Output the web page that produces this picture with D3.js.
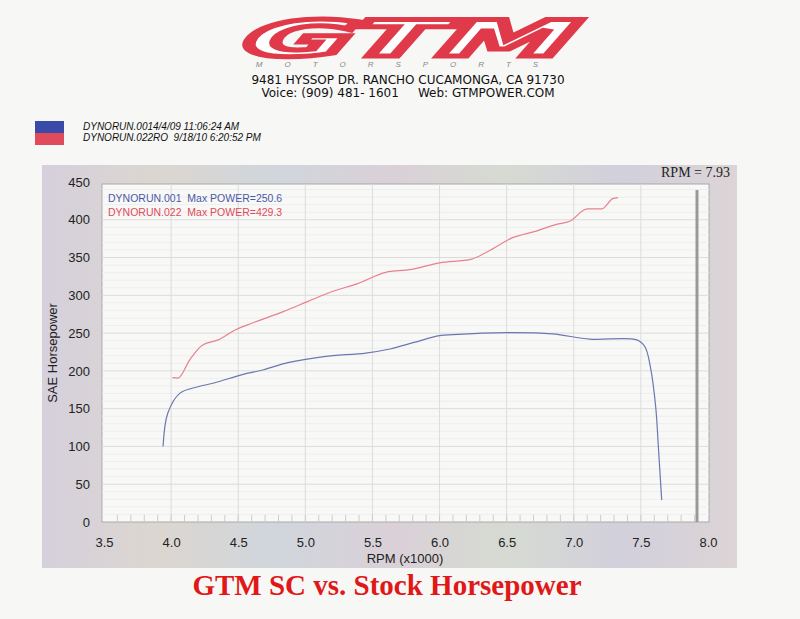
<!DOCTYPE html><html><head><meta charset="utf-8"><script src="https://cdn.jsdelivr.net/npm/d3@7"></script>
<style>body{margin:0;background:#f7f7f5}</style></head><body><svg id="c" width="800" height="619"></svg>
<script>
const blueRpm=[3.94,3.975,4.066,4.20,4.32,4.53,4.69,4.87,5.14,5.45,5.63,5.81,6.0,6.1,6.5,6.84,7.12,7.47,7.53,7.57,7.61,7.63,7.655];
const blueHp=[100,144,170.6,179,184,195,201.5,211,219,223.6,229,237.7,246.6,248,250.6,249,242,241,232,206,153,100,29];
const redRpm=[4.01,4.05,4.14,4.23,4.35,4.48,4.60,4.84,5.02,5.20,5.39,5.60,5.78,6.0,6.24,6.36,6.54,6.72,6.87,6.97,7.10,7.21,7.29,7.33];
const redHp=[191,190.4,215,233.7,241,254.5,263,278.8,292,305,315.5,330.5,334,343,348,358,376,385,394,398,414.5,414.5,428,429.3];
const xTicks=[3.5,4.0,4.5,5.0,5.5,6.0,6.5,7.0,7.5,8.0];
const yTicks=[0,50,100,150,200,250,300,350,400,450];
const svg=d3.select("#c");
// header
svg.append("text").attr("x",405).attr("y",56).attr("text-anchor","middle").attr("font-family","DejaVu Sans").attr("font-weight","bold").attr("font-style","italic").attr("font-size",50).attr("fill","#fff").attr("stroke","#e03a4a").attr("stroke-width",5).attr("transform","skewX(-20) translate(20,0)").attr("textLength",330).attr("lengthAdjust","spacingAndGlyphs").text("GTM");
svg.append("text").attr("x",408).attr("y",67).attr("text-anchor","middle").attr("font-family","Liberation Sans").attr("font-style","italic").attr("font-size",8).attr("fill","#888").attr("letter-spacing",22).text("MOTORSPORTS");
svg.append("text").attr("x",408).attr("y",84).attr("text-anchor","middle").attr("font-family","DejaVu Sans").attr("font-size",12).attr("fill","#111").text("9481 HYSSOP DR. RANCHO CUCAMONGA, CA 91730");
svg.append("text").attr("x",408).attr("y",97).attr("text-anchor","middle").attr("font-family","DejaVu Sans").attr("font-size",12).attr("fill","#111").attr("xml:space","preserve").text("Voice: (909) 481- 1601     Web: GTMPOWER.COM");
svg.append("rect").attr("x",35).attr("y",121).attr("width",29).attr("height",12).attr("fill","#3a4aa8");
svg.append("rect").attr("x",35).attr("y",133).attr("width",29).attr("height",12).attr("fill","#e04a5a");
svg.append("text").attr("x",83).attr("y",130).attr("font-family","Liberation Sans").attr("font-style","italic").attr("font-size",10).attr("fill","#111").text("DYNORUN.0014/4/09 11:06:24 AM");
svg.append("text").attr("x",83).attr("y",141).attr("font-family","Liberation Sans").attr("font-style","italic").attr("font-size",10).attr("fill","#111").attr("xml:space","preserve").text("DYNORUN.022RO  9/18/10 6:20:52 PM");
// frame
const g=svg.append("defs").append("linearGradient").attr("id","st");
["#d5d0dc","#dcd6d0","#d0d6dc","#dad0d8","#d6dad2","#d2d0dc","#dcd4d6"].forEach((c,i,a)=>g.append("stop").attr("offset",i/(a.length-1)).attr("stop-color",c));
svg.append("rect").attr("x",42).attr("y",165).attr("width",695).attr("height",403).attr("fill","url(#st)");
const x=d3.scaleLinear().domain([3.5,8.0]).range([104,708]);
const y=d3.scaleLinear().domain([0,450]).range([522,182]);
svg.append("rect").attr("x",102).attr("y",184).attr("width",607).attr("height",338).attr("fill","#f8f8f6").attr("stroke","#aaa");
svg.append("g").selectAll("line").data(d3.range(10,450,10)).join("line").attr("x1",102).attr("x2",709).attr("y1",d=>y(d)).attr("y2",d=>y(d)).attr("stroke",d=>d%50?"#eeeeee":"#dcdcdc");
svg.append("g").selectAll("line").data(xTicks.slice(1,-1)).join("line").attr("x1",d=>x(d)).attr("x2",d=>x(d)).attr("y1",184).attr("y2",522).attr("stroke","#dcdcdc");
svg.append("g").selectAll("line").data(d3.range(3.6,8.0,0.1)).join("line").attr("x1",d=>x(d)).attr("x2",d=>x(d)).attr("y1",515).attr("y2",522).attr("stroke","#ccc");
svg.append("line").attr("x1",697).attr("x2",697).attr("y1",190).attr("y2",522).attr("stroke","#999").attr("stroke-width",3);
const xa=svg.append("g").attr("transform","translate(0,522)").call(d3.axisBottom(x).tickValues(xTicks).tickFormat(d3.format(".1f")).tickSize(0).tickPadding(16));
const ya=svg.append("g").attr("transform","translate(92,0)").call(d3.axisLeft(y).tickValues(yTicks).tickSize(0).tickPadding(2));
[xa,ya].forEach(a=>{a.select(".domain").remove();a.selectAll("text").attr("font-family","Liberation Sans").attr("font-size",13).attr("fill","#222");});
svg.append("text").attr("x",405).attr("y",563).attr("text-anchor","middle").attr("font-family","Liberation Sans").attr("font-size",13).attr("fill","#222").text("RPM (x1000)");
svg.append("text").attr("transform","translate(57,353) rotate(-90)").attr("text-anchor","middle").attr("font-family","Liberation Sans").attr("font-size",13).attr("fill","#222").text("SAE Horsepower");
svg.append("text").attr("x",730).attr("y",177).attr("text-anchor","end").attr("font-family","Liberation Serif").attr("font-size",14).attr("fill","#222").text("RPM = 7.93");
svg.append("text").attr("x",108).attr("y",202).attr("font-family","Liberation Sans").attr("font-size",10.5).attr("fill","#4a5aa8").attr("xml:space","preserve").text("DYNORUN.001  Max POWER=250.6");
svg.append("text").attr("x",108).attr("y",216).attr("font-family","Liberation Sans").attr("font-size",10.5).attr("fill","#e04a5a").attr("xml:space","preserve").text("DYNORUN.022  Max POWER=429.3");
const line=d3.line().x(d=>x(d[0])).y(d=>y(d[1])).curve(d3.curveMonotoneX);
const lineB=d3.line().x(d=>x(d[0])).y(d=>y(d[1])).curve(d3.curveCatmullRom);
svg.append("path").attr("d",lineB(blueRpm.map((r,i)=>[r,blueHp[i]]))).attr("fill","none").attr("stroke","#6a78b0").attr("stroke-width",1.2);
svg.append("path").attr("d",line(redRpm.map((r,i)=>[r,redHp[i]]))).attr("fill","none").attr("stroke","#e88090").attr("stroke-width",1.2);
svg.append("text").attr("x",387).attr("y",595).attr("text-anchor","middle").attr("font-family","Liberation Serif").attr("font-weight","bold").attr("font-size",29).attr("fill","#e01818").text("GTM SC vs. Stock Horsepower");
</script></body></html>
